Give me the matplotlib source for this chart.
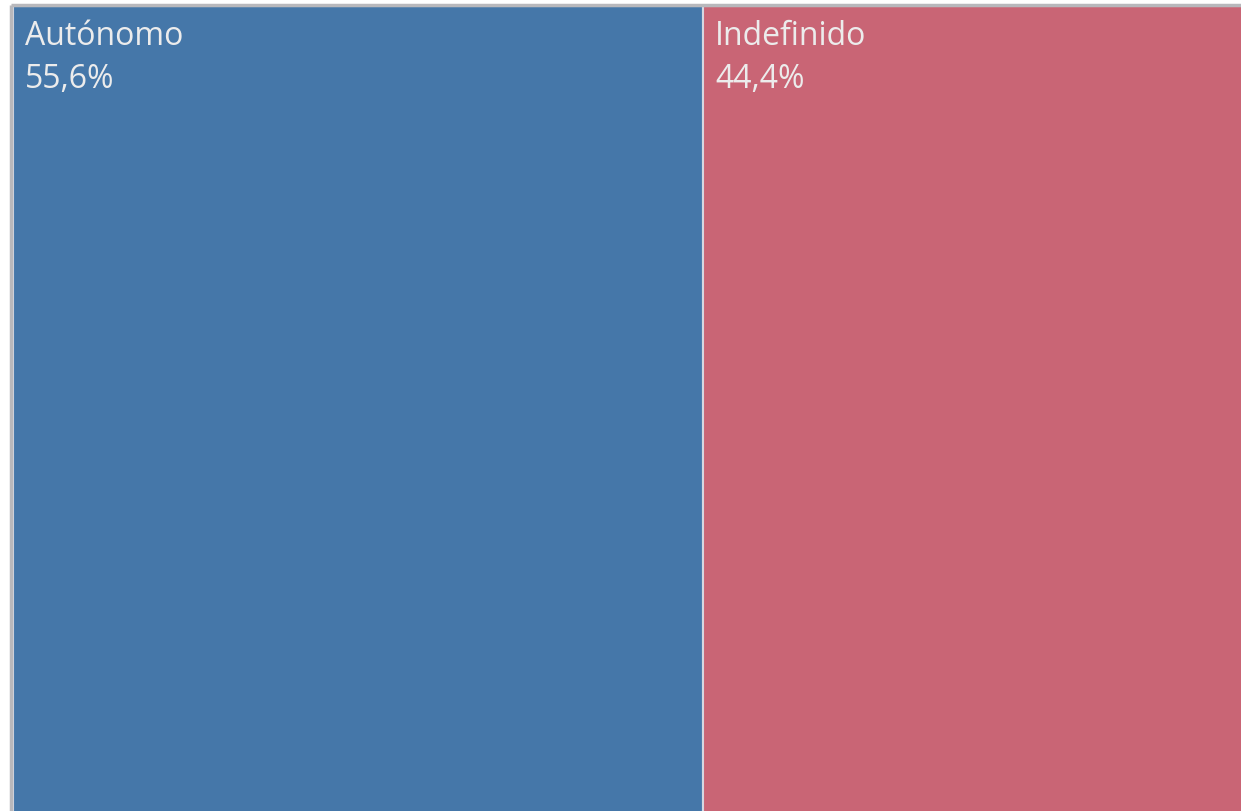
import matplotlib.pyplot as plt
from matplotlib.patches import Rectangle

labels = ["Autónomo", "Indefinido"]
shares = [55.6, 44.4]
colors = ["#4577A9", "#C96575"]

plt.rcParams['font.family'] = ['Open Sans', 'DejaVu Sans']

fig = plt.figure(figsize=(12.41, 8.12), dpi=100)
ax = fig.add_axes([0, 0, 1, 1])
ax.set_xlim(0, 1241)
ax.set_ylim(812, 0)
ax.axis('off')

# treemap area (extends past the right/bottom edge like the cropped original)
x0, y0 = 13, 7
total_w, total_h = 1241, 820

# outer frame lines
ax.plot([11, 11], [y0 - 1, 812], color='#B8B8BC', linewidth=2.5, solid_capstyle='butt')
ax.plot([11, 1241], [6, 6], color='#B8B8BC', linewidth=2.5, solid_capstyle='butt')

x = x0
total = sum(shares)
for lab, val, col in zip(labels, shares, colors):
    w = total_w * val / total
    ax.add_patch(Rectangle((x, y0), w, total_h, facecolor=col,
                           edgecolor='#D5D8E2', linewidth=1.5))
    ax.text(x + 12, y0 + 38, lab, color='#ECECEC', fontsize=23,
            va='baseline', ha='left')
    ax.text(x + 12, y0 + 81, f"{val:.1f}%".replace('.', ','), color='#ECECEC',
            fontsize=23, va='baseline', ha='left')
    x += w

fig.savefig('out.png', dpi=100)
